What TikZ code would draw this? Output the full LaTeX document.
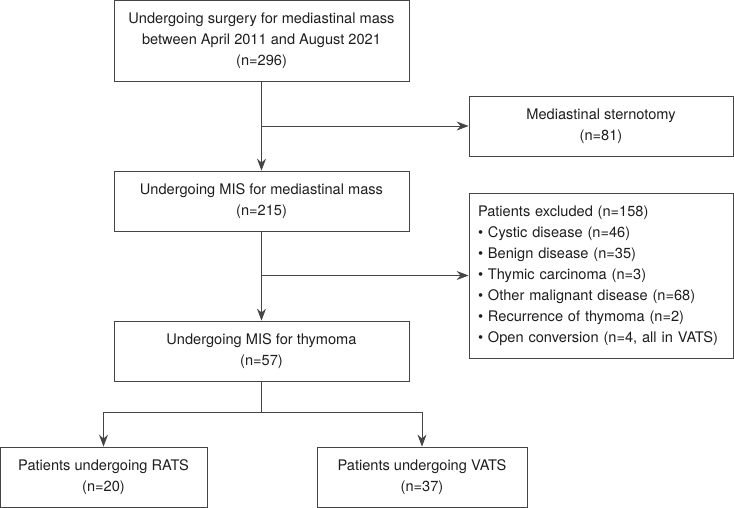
\documentclass[tikz,border=0pt]{standalone}
\usepackage{fontspec}
\setmainfont{TeX Gyre Heros}
\usepackage{tikz}
\usetikzlibrary{arrows.meta,shapes,positioning}
\definecolor{boxline}{HTML}{454545}
\definecolor{boxtext}{HTML}{1E1E1E}
\tikzset{
  every picture/.style = {
    thick,
    >={Stealth[length=12pt, width=9pt, inset=4pt]},
  }
  ,
  stage/.style = {
    rectangle,
    draw = boxline,
    text = boxtext,
    font = \fontsize{14.6}{21}\selectfont,
    align = center,
    inner sep = 0pt,
    minimum height = 60pt
  }
  , % list of excluded patients
  stage-list/.style = {
    stage,
    align = left,
    text width = 246pt,
    minimum width = 264pt,
    minimum height = 165pt
  }
}

\begin{document}
\begin{tikzpicture}[x=1pt, y=-1pt]
\useasboundingbox (0,0) rectangle (734,508);
\node[stage, minimum width=295pt, minimum height=81pt] at (261.5,40.5) (surgery) {Undergoing surgery for mediastinal mass\\between April 2011 and August 2021\\(n=296)};
\node[stage, minimum width=264pt] at (601,126) (sternotomy) {Mediastinal sternotomy\\(n=81)};
\node[stage, minimum width=295pt] at (261.5,201) (mis) {Undergoing MIS for mediastinal mass\\(n=215)};
\node[stage-list] at (601,275.5) (excluded) {Patients excluded (n=158)\\
\textbullet\ Cystic disease (n=46)\\
\textbullet\ Benign disease (n=35)\\
\textbullet\ Thymic carcinoma (n=3)\\
\textbullet\ Other malignant disease (n=68)\\
\textbullet\ Recurrence of thymoma (n=2)\\
\textbullet\ Open conversion (n=4, all in VATS)};
\node[stage, minimum width=295pt] at (261.5,351) (thymoma) {Undergoing MIS for thymoma\\(n=57)};
\node[stage, minimum width=207pt] at (103.5,477) (rats) {Patients undergoing RATS\\(n=20)};
\node[stage, minimum width=210pt] at (422,477) (vats) {Patients undergoing VATS\\(n=37)};
\coordinate (split) at (261.5,412);

\draw[->, boxline] (surgery) -- (mis);
\draw[->, boxline] (surgery.south |- sternotomy.west) -- (sternotomy);
\draw[->, boxline] (mis) -- (thymoma);
\draw[->, boxline] (mis.south |- excluded.west) -- (excluded);
\draw[boxline] (thymoma) -- (split);
\draw[->, boxline] (split) -| (rats);
\draw[->, boxline] (split) -| (vats);
\end{tikzpicture}
\end{document}
